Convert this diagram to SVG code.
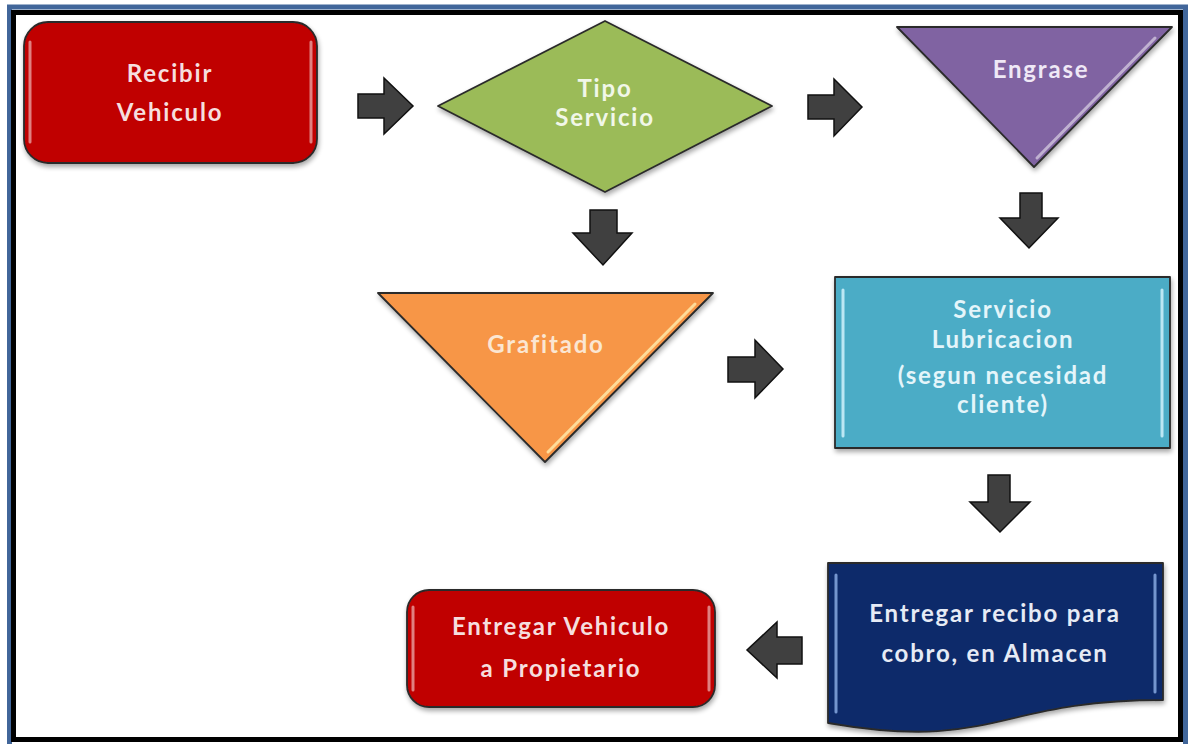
<svg xmlns="http://www.w3.org/2000/svg" width="1188" height="744" viewBox="0 0 1188 744">
  <defs>
    <filter id="shadow" x="-10%" y="-10%" width="125%" height="130%">
      <feGaussianBlur in="SourceAlpha" stdDeviation="2.5"/>
      <feOffset dx="1" dy="3" result="b"/>
      <feComponentTransfer><feFuncA type="linear" slope="0.35"/></feComponentTransfer>
      <feMerge><feMergeNode/><feMergeNode in="SourceGraphic"/></feMerge>
    </filter>
    <style>
      .lbl { font-family: Lato, "Open Sans", "Liberation Sans", sans-serif; font-weight: 700; font-size: 24px; letter-spacing: 1.8px; text-anchor: middle; }
      .edge { stroke: #2b2b2b; stroke-width: 1.8; stroke-linejoin: round; }
      .shine { fill: none; stroke: #ffffff; stroke-width: 3; stroke-linecap: round; opacity: 0.5; }
      .arrow { fill: #404040; stroke: #111111; stroke-width: 1.5; stroke-linejoin: miter; }
    </style>
  </defs>

  <rect x="0" y="0" width="1188" height="744" fill="#ffffff"/>

  <!-- frame -->
  <rect x="9.5" y="7" width="1176" height="742" fill="none" stroke="#41669a" stroke-width="5"/>
  <rect x="13.5" y="12.5" width="1167" height="727" fill="none" stroke="#000000" stroke-width="5"/>

  <!-- connectors -->
  <g id="connectors">
    <polygon class="arrow" points="358,94 384,94 384,78 413,106 384,134 384,118 358,118"/>
    <polygon class="arrow" points="808,95 834,95 834,79 862,107 834,136 834,119 808,119"/>
    <polygon class="arrow" points="590,210 617,210 617,233 632,233 603,265 573,233 590,233"/>
    <polygon class="arrow" points="1020,193 1042,193 1042,218 1058,218 1029,248 1000,218 1020,218"/>
    <polygon class="arrow" points="728,357 755,357 755,340 783,369 755,398 755,382 728,382"/>
    <polygon class="arrow" points="988,475 1010,475 1010,502 1030,502 1000,532 970,502 988,502"/>
    <polygon class="arrow" points="802,637 777,637 777,622 747,650 777,678 777,664 802,664"/>
  </g>

  <!-- Recibir Vehiculo -->
  <g id="recibir">
    <rect class="edge" x="24" y="22" width="293" height="141" rx="24" fill="#c00000" filter="url(#shadow)"/>
    <line class="shine" x1="30" y1="42" x2="30" y2="142"/>
    <line class="shine" x1="311" y1="42" x2="311" y2="142"/>
    <text class="lbl" x="170" y="82" fill="#f6dede">Recibir</text>
    <text class="lbl" x="170" y="121" fill="#f6dede">Vehiculo</text>
  </g>

  <!-- Tipo Servicio -->
  <g id="tipo">
    <polygon class="edge" points="605,21 772,106 605,192 438,106" fill="#9bbb59" filter="url(#shadow)"/>
    <text class="lbl" x="605" y="97" fill="#f1f7e8">Tipo</text>
    <text class="lbl" x="605" y="126" fill="#f1f7e8">Servicio</text>
  </g>

  <!-- Engrase -->
  <g id="engrase">
    <polygon class="edge" points="897,27 1172,27 1034,167" fill="#8064a2" filter="url(#shadow)"/>
    <line class="shine" x1="1155" y1="38" x2="1037" y2="158"/>
    <text class="lbl" x="1041" y="78" fill="#efe8f6">Engrase</text>
  </g>

  <!-- Grafitado -->
  <g id="grafitado">
    <polygon class="edge" points="378,293 713,293 545,462" fill="#f79646" filter="url(#shadow)"/>
    <line class="shine" x1="695" y1="304" x2="548" y2="452" style="stroke:#ffe9a8;opacity:0.85"/>
    <text class="lbl" x="546" y="353" fill="#fbe6d2">Grafitado</text>
  </g>

  <!-- Servicio Lubricacion -->
  <g id="servicio">
    <rect class="edge" x="835" y="277" width="335" height="171" fill="#4bacc6" filter="url(#shadow)"/>
    <line class="shine" x1="843" y1="290" x2="843" y2="436" style="stroke:#d8f6ff;opacity:0.8"/>
    <line class="shine" x1="1162" y1="290" x2="1162" y2="436" style="stroke:#d8f6ff;opacity:0.8"/>
    <text class="lbl" x="1003" y="318" fill="#e4f5fa">Servicio</text>
    <text class="lbl" x="1003" y="348" fill="#e4f5fa">Lubricacion</text>
    <text class="lbl" x="1003" y="384" fill="#e4f5fa">(segun necesidad</text>
    <text class="lbl" x="1003" y="413" fill="#e4f5fa">cliente)</text>
  </g>

  <!-- Entregar recibo (document) -->
  <g id="recibo">
    <path class="edge" d="M828,563 H1163 V700 C995.5,700 995.5,752 828,723 Z" fill="#0f2a6a" filter="url(#shadow)"/>
    <line class="shine" x1="836" y1="575" x2="836" y2="712" style="stroke:#8fb0e8;opacity:0.8"/>
    <line class="shine" x1="1155" y1="575" x2="1155" y2="692" style="stroke:#8fb0e8;opacity:0.8"/>
    <text class="lbl" x="995" y="622" fill="#e6ebf5">Entregar recibo para</text>
    <text class="lbl" x="995" y="662" fill="#e6ebf5">cobro, en Almacen</text>
  </g>

  <!-- Entregar Vehiculo -->
  <g id="entregar">
    <rect class="edge" x="407" y="590" width="308" height="117" rx="22" fill="#c00000" filter="url(#shadow)"/>
    <line class="shine" x1="413" y1="607" x2="413" y2="690"/>
    <line class="shine" x1="709" y1="607" x2="709" y2="690"/>
    <text class="lbl" x="561" y="635" fill="#f6dede">Entregar Vehiculo</text>
    <text class="lbl" x="561" y="677" fill="#f6dede">a Propietario</text>
  </g>
</svg>
